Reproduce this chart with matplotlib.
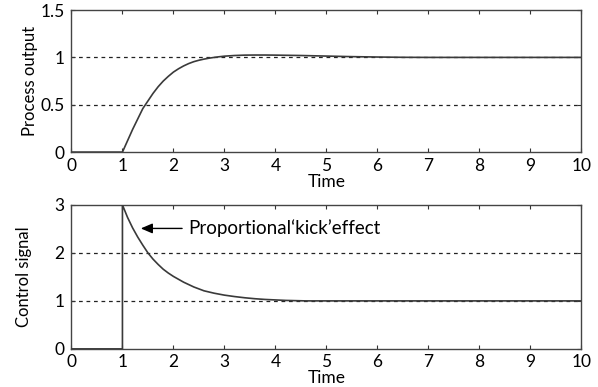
import matplotlib.pyplot as plt

plt.rcParams['font.family'] = ['Lato', 'DejaVu Sans']

# process output
t_out = [0, 1.0, 1.1, 1.2, 1.3, 1.4, 1.5, 1.6, 1.7, 1.8, 1.9, 2.0, 2.1, 2.2, 2.3, 2.4, 2.5,
         2.6, 2.7, 2.8, 2.9, 3.0, 3.2, 3.4, 3.6, 3.8, 4.0, 4.5, 5.0, 5.5, 6.0, 6.5, 7.0, 10.0]
y_out = [0, 0.0, 0.12, 0.24, 0.35, 0.46, 0.54, 0.62, 0.69, 0.75, 0.80, 0.845, 0.88, 0.91, 0.935, 0.955, 0.97,
         0.982, 0.992, 1.0, 1.007, 1.013, 1.02, 1.024, 1.025, 1.025, 1.024, 1.02, 1.014, 1.008, 1.004, 1.001, 1.0, 1.0]

# control signal
t_ctl = [0, 1.0, 1.0, 1.1, 1.2, 1.3, 1.4, 1.5, 1.6, 1.7, 1.8, 1.9, 2.0, 2.2, 2.4, 2.6, 2.8,
         3.0, 3.2, 3.4, 3.6, 3.8, 4.0, 4.2, 4.4, 4.6, 10.0]
y_ctl = [0, 0.0, 3.0, 2.74, 2.52, 2.33, 2.16, 2.0, 1.87, 1.76, 1.66, 1.58, 1.51, 1.39, 1.29, 1.21, 1.16,
         1.12, 1.09, 1.065, 1.045, 1.03, 1.02, 1.01, 1.005, 1.0, 1.0]

x_ticks = list(range(0, 11))
out_ticks = [0, 0.5, 1, 1.5]
out_labels = ['0', '0.5', '1', '1.5']
ctl_ticks = [0, 1, 2, 3]

line_col = '#3a3a3a'

fig = plt.figure(figsize=(5.98, 3.87), dpi=100)
ax1 = fig.add_axes([0.1195, 0.607, 0.8525, 0.367])
ax2 = fig.add_axes([0.1195, 0.0985, 0.8525, 0.372])

for ax, yt, ylim in [(ax1, out_ticks, (0, 1.5)), (ax2, ctl_ticks, (0, 3))]:
    ax.set_xlim(0, 10)
    ax.set_ylim(*ylim)
    ax.set_xticks(x_ticks)
    ax.set_yticks(yt)
    ax.tick_params(direction='in', length=3, width=0.8, top=True, right=True,
                   labelsize=12.5, color='#333333')
    ax.tick_params(axis='x', pad=4)
    ax.tick_params(axis='y', pad=5)
    for s in ax.spines.values():
        s.set_color('#444444')
        s.set_linewidth(1.0)
    ax.set_xlabel('Time', fontsize=12.5, labelpad=0)

ax1.set_yticklabels(out_labels)
for g in [0.5, 1.0]:
    ax1.axhline(g, color='#222222', lw=0.9, ls=(0, (3, 3)), zorder=1)
for g in [1.0, 2.0]:
    ax2.axhline(g, color='#222222', lw=0.9, ls=(0, (3, 3)), zorder=1)

ax1.plot(t_out, y_out, color=line_col, lw=1.2, zorder=3)
ax2.plot(t_ctl, y_ctl, color=line_col, lw=1.2, zorder=3)

ax1.set_ylabel('Process output', fontsize=12)
ax2.set_ylabel('Control signal', fontsize=12)
ax1.yaxis.set_label_coords(-0.065, 0.5)
ax2.yaxis.set_label_coords(-0.077, 0.5)

ax2.annotate('', xy=(1.36, 2.51), xytext=(2.17, 2.51),
             arrowprops=dict(arrowstyle='-|>,head_length=0.7,head_width=0.3',
                             color='black', lw=1.0, shrinkA=0, shrinkB=0))
ax2.text(2.29, 2.51, 'Proportional\u2018kick\u2019effect', fontsize=13.5,
         ha='left', va='center')

fig.savefig('out.png', dpi=100)
